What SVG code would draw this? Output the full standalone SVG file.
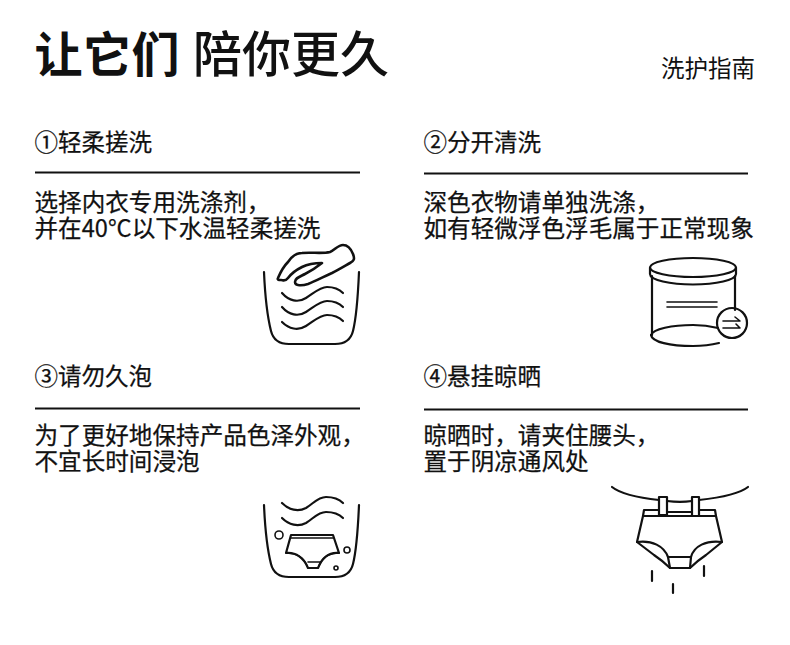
<svg xmlns="http://www.w3.org/2000/svg" width="790" height="645" viewBox="0 0 790 645">
<style>
text{font-family:"Noto Sans CJK SC","Noto Sans",sans-serif;fill:#111}
.b{font-size:23.600px;stroke:#111;stroke-width:0.250px}
.h{font-size:23.500px;stroke:#111;stroke-width:0.250px}
.r{stroke:#111;stroke-width:2}
.i{fill:none;stroke:#111;stroke-width:2.200;stroke-linecap:round;stroke-linejoin:round}
.t{stroke-width:1.600}
</style>
<rect width="790" height="645" fill="#fff"/>
<g id="title">
<text x="34.500" y="72" font-size="48" font-weight="700" letter-spacing="0.5">让它们</text>
<text x="193" y="72" font-size="49" font-weight="500">陪你更久</text>
<text x="661" y="77" font-size="23.500" fill="#333">洗护指南</text>
</g>
<g id="step1">
<text class="h" x="34.500" y="151">①轻柔搓洗</text>
<line class="r" x1="35" y1="172.500" x2="360" y2="172.500"/>
<text class="b"><tspan x="34.500" y="211">选择内衣专用洗涤剂，</tspan><tspan x="34.500" y="237">并在40°C以下水温轻柔搓洗</tspan></text>
<g class="i">
<path d="M264 272C265 295 267 315 271 331C273 339 279 344 289 344H335C345 344 351 339 353 331C357 315 358 295 359 272"/>
<path d="M282 293C289 301 298 303 306 298C314 293 320 287 327 287C333 287 339 289 343 293"/>
<path d="M282 307C289 315 298 317 306 312C314 307 320 301 327 301C333 301 339 303 343 307"/>
<path d="M282 322C289 329 298 331 306 326C314 321 320 315 327 315C333 315 339 317 343 321"/>
<path stroke-width="2.600" d="M278 278C281 271 284 266 288 262C292 256 296 253 302 253C312 252 322 254 330 252C335 250 338 245 343 245C348 245 351 249 353 254C355 259 354 261 350 263C343 267 338 270 332 273C323 277 316 281 308 284C302 286 295 286 295 282C295 278 299 277 305 274C311 271 317 267 322 263C316 263 308 264 302 267C296 270 291 274 288 278C285 282 283 280 281 280C279 280 277 280 278 278Z"/>
</g>
</g>
<g id="step2">
<text class="h" x="423.500" y="151">②分开清洗</text>
<line class="r" x1="424" y1="173.500" x2="748" y2="173.500"/>
<text class="b"><tspan x="423.500" y="211">深色衣物请单独洗涤，</tspan><tspan x="423.500" y="237">如有轻微浮色浮毛属于正常现象</tspan></text>
<g class="i">
<ellipse cx="693" cy="267.500" rx="43" ry="9.500"/>
<path d="M650 267.500V274C650 280 670 284.500 693 284.500C716 284.500 736 280 736 274V267.500"/>
<path d="M652 276V335"/>
<path d="M735 276V310"/>
<path d="M651 335C652 342 670 346 693 346C702 346 711 345 719 343"/>
<path d="M651 335C653 329 672 325 693 325C702 325 710 326 718 328"/>
<circle cx="732" cy="323" r="15"/>
<path class="t" d="M667 302H717M667 307H717M723 321H740L735 317M723 328H740L736 324"/>
</g>
</g>
<g id="step3">
<text class="h" x="34.500" y="385">③请勿久泡</text>
<line class="r" x1="35" y1="408.500" x2="360" y2="408.500"/>
<text class="b"><tspan x="34.500" y="444">为了更好地保持产品色泽外观，</tspan><tspan x="34.500" y="470">不宜长时间浸泡</tspan></text>
<g class="i">
<path d="M264 505C265 528 267 548 271 564C273 572 279 577 289 577H335C345 577 351 572 353 564C357 548 358 528 359 505"/>
<path d="M282 503C289 510 298 512 306 508C314 503 318 497 326 497C332 497 339 499 343 503"/>
<path d="M282 518C289 525 298 527 306 523C314 518 318 512 326 512C332 512 339 514 343 518"/>
<path d="M291 535H333L339 553C329 552 322 558 318 568H308C304 558 296 552 286 553Z"/>
<path class="t" d="M291 538H333M308 562H321M286 553C297 553 304 558 307 566M339 553C329 553 322 558 319 566"/>
<circle class="t" cx="279" cy="535" r="4"/>
<circle class="t" cx="347" cy="550" r="3"/>
<circle class="t" cx="336" cy="568" r="2"/>
</g>
</g>
<g id="step4">
<text class="h" x="423.500" y="385">④悬挂晾晒</text>
<line class="r" x1="424" y1="409.500" x2="748" y2="409.500"/>
<text class="b"><tspan x="423.500" y="444">晾晒时，请夹住腰头，</tspan><tspan x="423.500" y="470">置于阴凉通风处</tspan></text>
<g class="i">
<path d="M612 487C622 495 640 498 659 500M667 501C675 502 685 502 692 501M699 500C717 498 738 495 748 487"/>
<path d="M659 497H667V515H659ZM692 497H699V516H692Z"/>
<path d="M644 510H659M667 512H692M699 510H715L716 516H643L644 510"/>
<path d="M643 516L637 542L654 555C660 559 665 563 670 568H690C695 563 700 559 706 555L722 542L716 516"/>
<path d="M637 542C652 540 664 546 668 557L670 568M722 542C706 540 694 546 691 557L690 568M668 557H691"/>
<path d="M652 571V581M673 584V593M704 566V576"/>
</g>
</g>
</svg>
